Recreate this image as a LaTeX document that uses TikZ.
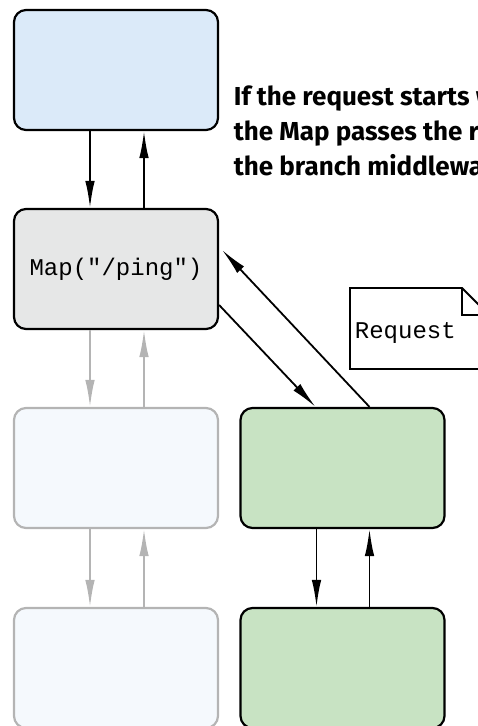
\documentclass[tikz,border=0pt]{standalone}
\usepackage{fontspec}
\setmainfont{PT Sans}
\newfontfamily\codefont{Liberation Mono}
\newfontfamily\notefont{Fira Sans}
\usetikzlibrary{arrows.meta,positioning}
\definecolor{mwblue}{RGB}{219,234,249}
\definecolor{mapgray}{RGB}{230,231,231}
\definecolor{fadeblue}{RGB}{245,249,253}
\definecolor{fadeline}{RGB}{180,180,180}
\definecolor{branchgreen}{RGB}{200,227,195}

\begin{document}
\begin{tikzpicture}[x=1pt,y=-1pt,line width=1.8pt,>={Latex[length=27pt,width=9.5pt]},
  mw/.style={draw,rounded corners=12pt,minimum width=204pt,minimum height=120pt,inner sep=0pt,line width=2.2pt},
  faded/.style={mw,draw=fadeline,fill=fadeblue},
  code/.style={font=\codefont\fontsize{24}{28}\selectfont}]
  \useasboundingbox (0,0) rectangle (478,726);
  % ---------- main pipeline
  \node[mw,fill=mwblue] (top) at (116,70) {};
  \node[mw,fill=mapgray,code] (map) at (116,269) {Map("/ping")};
  \node[faded] (f1) at (116,468) {};
  \node[faded] (f2) at (116,668) {};
  \draw[->] ([xshift=-26pt]top.south) -- ([xshift=-26pt]map.north);
  \draw[->] ([xshift=28pt]map.north) -- ([xshift=28pt]top.south);
  \foreach \a/\b in {map/f1,f1/f2} {
    \draw[->,fadeline] ([xshift=-26pt]\a.south) -- ([xshift=-26pt]\b.north);
    \draw[->,fadeline] ([xshift=28pt]\b.north) -- ([xshift=28pt]\a.south);
  }
  % ---------- branch
  \node[mw,fill=branchgreen] (g1) at (342.5,468) {};
  \node[mw,fill=branchgreen] (g2) at (342.5,668) {};
  \draw[->] ([xshift=-26pt]g1.south) -- ([xshift=-26pt]g2.north);
  \draw[->] ([xshift=27pt]g2.north) -- ([xshift=27pt]g1.south);
  \draw[->] ([yshift=-36pt]map.east) -- ([xshift=-27pt]g1.north);
  \draw[->] ([xshift=27pt]g1.north) -- ([shift={(3pt,19pt)}]map.east);
  % ---------- request note
  \draw[fill=white] (350,288) -- (462,288) -- (489,315) -- (489,369) -- (350,369) -- cycle;
  \draw (462,288) -- (462,315) -- (489,315);
  \node[code,anchor=base west,inner sep=0pt] (req) at (354,338) {Request};
  % ---------- annotation
  \foreach \t [count=\i] in {{If the request starts with /ping,},{the Map passes the request to},{the branch middleware.}}
    \node[anchor=base west,inner sep=0pt,font=\notefont\bfseries\fontsize{26}{30}\selectfont] (txt\i) at (233,70+35*\i) {\t};
\end{tikzpicture}
\end{document}
